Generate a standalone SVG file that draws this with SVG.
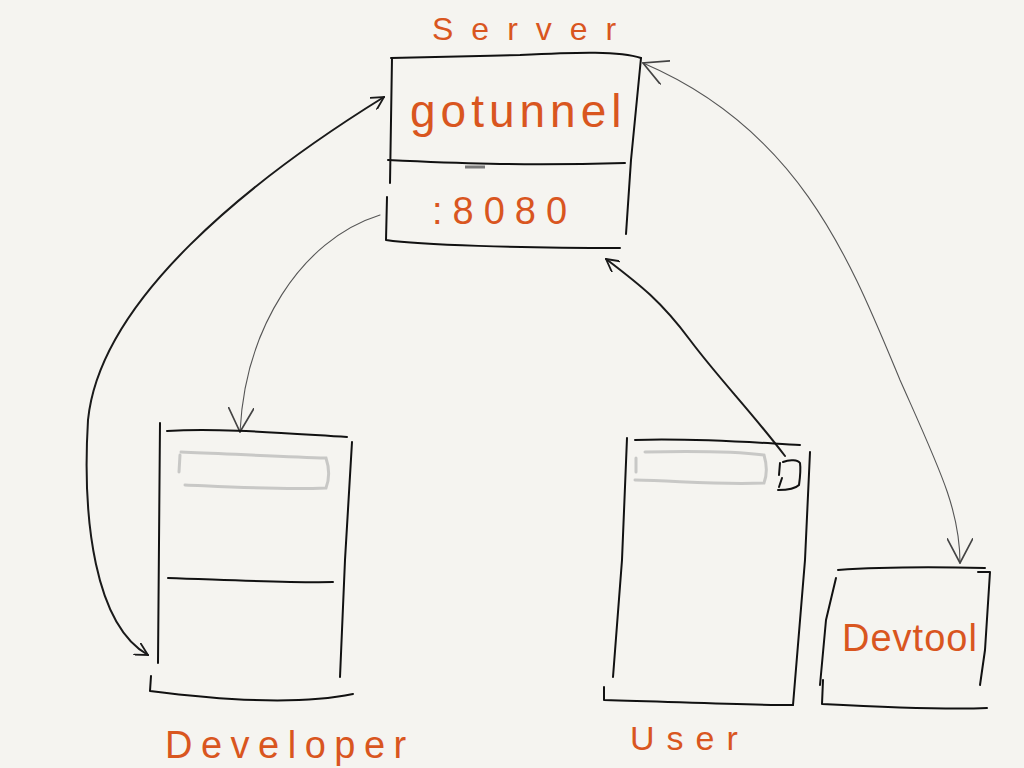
<svg xmlns="http://www.w3.org/2000/svg" width="1024" height="768" viewBox="0 0 1024 768">
<style>
.bx{fill:none;stroke:#111;stroke-width:2;stroke-linecap:round;stroke-linejoin:round}
.bar{fill:none;stroke:#c8c8c6;stroke-width:3;stroke-linecap:round}
.lbl{font-family:"Liberation Sans","DejaVu Sans",sans-serif;fill:#d9561f;font-weight:normal}
.cb{fill:none;stroke:#1a1a1a;stroke-width:2;stroke-linecap:round}
.cg{fill:none;stroke:#555;stroke-width:1.1;stroke-linecap:round}
</style>
<defs>
<marker id="ab" viewBox="0 0 14 14" refX="13" refY="7" markerWidth="14" markerHeight="14" markerUnits="userSpaceOnUse" orient="auto-start-reverse">
<path d="M0,0 L13,7 L0,14" fill="none" stroke="#1a1a1a" stroke-width="1.8"/>
</marker>
<marker id="ag" viewBox="0 0 20 20" refX="19" refY="10" markerWidth="26" markerHeight="26" markerUnits="userSpaceOnUse" orient="auto-start-reverse">
<path d="M0,0 L19,10 L0,20" fill="none" stroke="#444" stroke-width="1.3"/>
</marker>
</defs>
<rect width="1024" height="768" fill="#f5f4f0"/>

<g id="connectors">
<path class="cb" d="M148,655 C95,625 82,520 88,420 C100,300 250,180 384,97" marker-start="url(#ab)" marker-end="url(#ab)"/>
<path class="cg" d="M380,215 C300,240 245,330 240,432" marker-end="url(#ag)"/>
<path class="cb" d="M785,456 C750,410 720,380 690,340 C660,300 640,285 606,259" marker-end="url(#ab)"/>
<path class="cg" d="M643,63 C800,130 850,260 900,380 C940,470 960,510 960,563" marker-start="url(#ag)" marker-end="url(#ag)"/>
</g>

<g id="server">
<text class="lbl" x="432" y="40" font-size="32" letter-spacing="18">Server</text>
<path class="bx" d="M391,58 C450,57 480,56 520,55 C580,52 620,51 641,58"/>
<path class="bx" d="M392,58 L390,183"/>
<path class="bx" d="M387,197 L386,240 C420,245 520,248 620,248"/>
<path class="bx" d="M641,58 L631,160 L626,234"/>
<path class="bx" d="M388,160 C450,163 520,166 625,163" stroke-width="1.5"/>
<path d="M465,167 L485,167" stroke="#777" stroke-width="3"/>
<text class="lbl" x="410" y="127" font-size="46" letter-spacing="5">gotunnel</text>
<text class="lbl" x="432" y="224" font-size="38" letter-spacing="10">:8080</text>
</g>

<g id="developer">
<path class="bx" d="M160,423 L158,663"/>
<path class="bx" d="M167,431 C220,428 280,433 347,437"/>
<path class="bx" d="M352,442 L345,560 L340,677"/>
<path class="bx" d="M151,676 L150,691 C220,700 300,705 353,694"/>
<path class="bx" d="M168,578 C230,580 290,583 333,582"/>
<path class="bar" d="M181,452 C230,454 290,457 326,458 C330,470 329,480 326,488 C280,490 230,487 185,485 M180,455 L179,472"/>
<text class="lbl" x="165" y="758" font-size="38" letter-spacing="8.5">Developer</text>
</g>

<g id="user">
<path class="bx" d="M627,438 L622,560 L613,677"/>
<path class="bx" d="M635,440 C700,438 760,443 800,445"/>
<path class="bx" d="M810,452 L805,560 L793,705"/>
<path class="bx" d="M604,687 L604,700 C680,702 740,705 793,705"/>
<path class="bar" d="M645,452 C690,451 740,452 764,455 C767,465 767,475 764,483 C720,485 680,481 635,480 M636,458 L636,472"/>
<path class="bx" d="M783,462 C790,459 798,460 800,463 C801,470 800,478 799,485 C795,489 788,490 778,490 M779,487 L782,478 M780,463 L779,475"/>
<text class="lbl" x="630" y="750" font-size="34" letter-spacing="12">User</text>
</g>

<g id="devtool">
<path class="bx" d="M838,570 C880,567 940,567 985,568"/>
<path class="bx" d="M836,578 L826,620 L820,685"/>
<path class="bx" d="M978,572 L990,572 L985,650 L980,685"/>
<path class="bx" d="M823,680 L822,704 C880,707 940,710 987,708"/>
<text class="lbl" x="842" y="651" font-size="38" letter-spacing="1">Devtool</text>
</g>
</svg>
